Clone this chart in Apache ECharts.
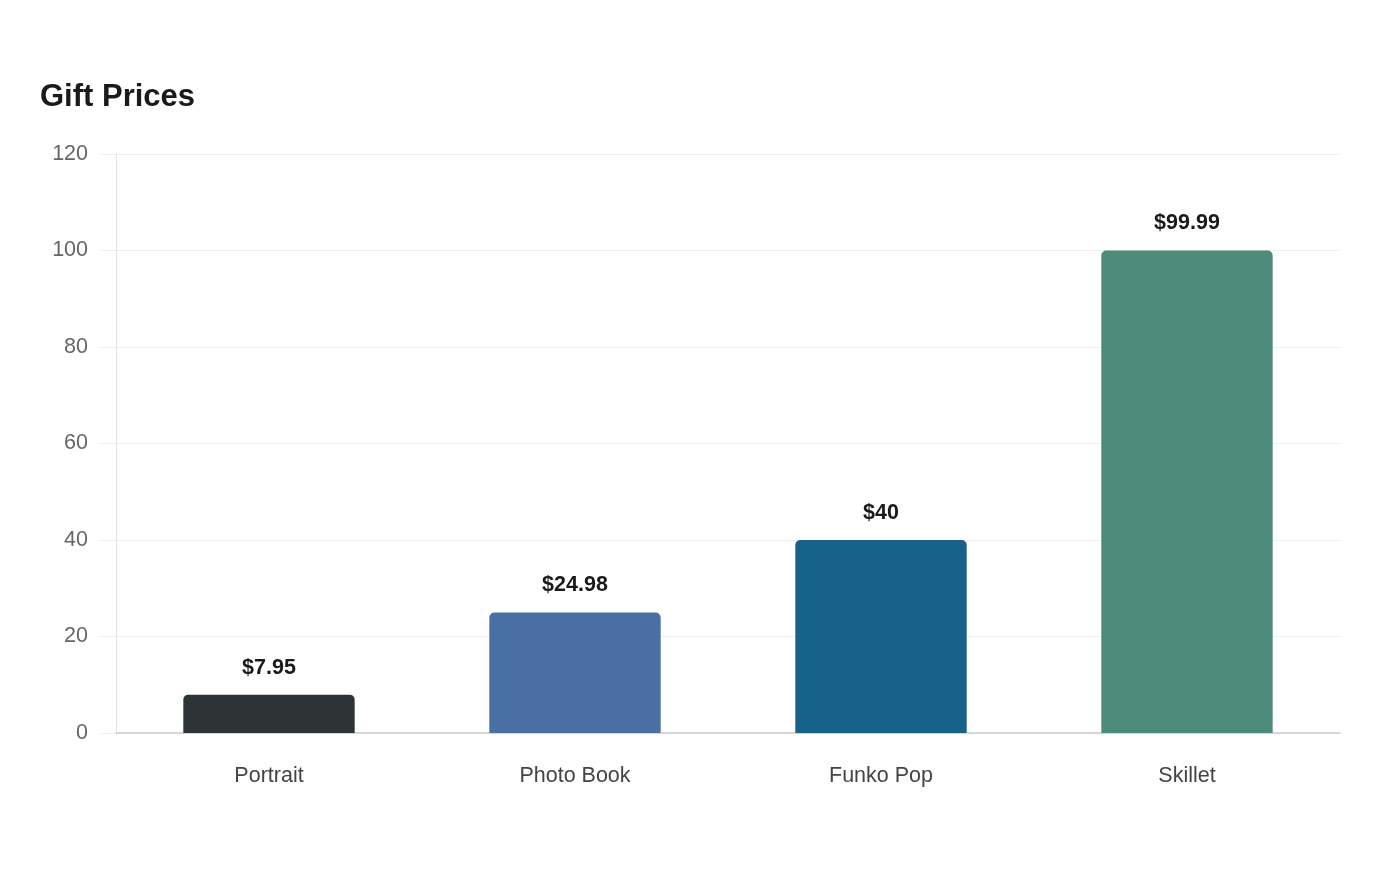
<!DOCTYPE html>
<html>
<head>
<meta charset="utf-8">
<script src="https://cdn.jsdelivr.net/npm/echarts@6/dist/echarts.min.js"></script>
<style>
  html, body { margin: 0; padding: 0; background: #fff; }
  #chart { width: 1400px; height: 880px; }
</style>
</head>
<body>
<div id="chart"></div>
<script>
// gift names and prices
const gifts = ['Portrait', 'Photo Book', 'Funko Pop', 'Skillet'];
const prices = [7.95, 24.98, 40, 99.99];
const barColors = ['#2d3436', '#4a6fa5', '#17618a', '#4d8b7a'];

const font = '"Liberation Sans", Arial, Helvetica, sans-serif';
const chart = echarts.init(document.getElementById('chart'));

const option = {
  backgroundColor: '#fff',
  textStyle: { fontFamily: font },
  title: {
    text: 'Gift Prices',
    left: 40,
    top: 82,
    padding: 0,
    textStyle: { fontFamily: font, fontSize: 31, fontWeight: 'bold', color: '#1a1a1a' }
  },
  grid: { left: 116, right: 60, top: 154, bottom: 147 },
  xAxis: {
    type: 'category',
    data: gifts,
    axisLine: { lineStyle: { color: '#cccccc', width: 1.5 } },
    axisTick: { show: false },
    axisLabel: { margin: 32, fontSize: 21.5, color: '#444', fontFamily: font }
  },
  yAxis: {
    type: 'value',
    min: 0,
    max: 120,
    interval: 20,
    axisLine: { show: true, lineStyle: { color: '#dddddd', type: 'dotted' } },
    axisTick: { show: true, length: 16, lineStyle: { color: '#eeeeee' } },
    axisLabel: { margin: 28, fontSize: 21.5, color: '#666', fontFamily: font, padding: [4, 0, 0, 0] },
    splitLine: { lineStyle: { color: '#eeeeee' } }
  },
  series: [{
    type: 'bar',
    barWidth: '56%',
    data: prices.map((v, i) => ({ value: v, itemStyle: { color: barColors[i] } })),
    itemStyle: { borderRadius: [5, 5, 0, 0] },
    label: {
      show: true,
      position: 'top',
      distance: 16,
      fontSize: 21.5,
      fontWeight: 'bold',
      color: '#1a1a1a',
      fontFamily: font,
      formatter: p => '$' + p.value
    }
  }]
};

chart.setOption(option);
</script>
</body>
</html>
